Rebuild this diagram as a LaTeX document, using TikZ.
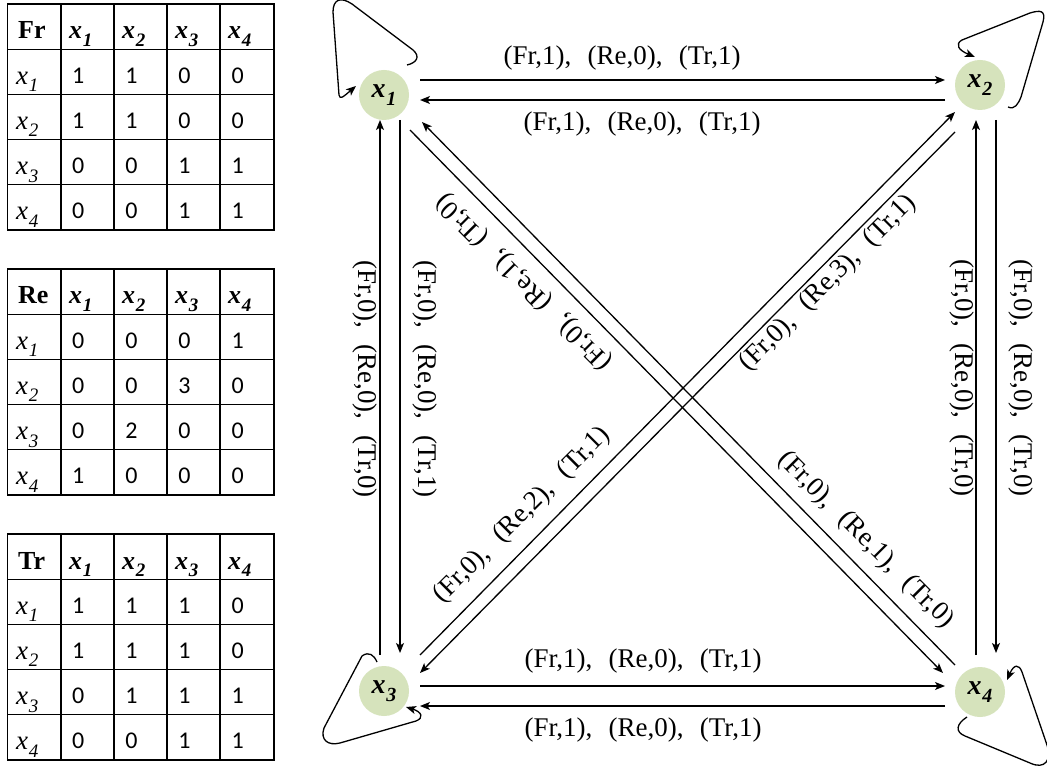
\documentclass[tikz,border=0pt]{standalone}
\usepackage{fontspec}
\setmainfont{Liberation Serif}
\newfontfamily\calib{Carlito}
\usetikzlibrary{arrows.meta}
\definecolor{nodegreen}{RGB}{214,227,188}
\newcommand\gp{\hspace{0.6em}}
\newcommand\elab[3]{(Fr,#1),\gp(Re,#2),\gp(Tr,#3)}
\newcommand\nx[2]{x\kern0.03em\raisebox{-0.28em}{\fontsize{#2}{#2}\selectfont #1}}
\tikzset{
  vtx/.style={circle, fill=nodegreen, minimum size=50pt, inner sep=0pt,
    font=\fontsize{28}{28}\selectfont\bfseries\itshape},
  arr/.style={line width=1.3pt, -{Stealth[length=10pt,width=8pt,inset=2.5pt]}},
  ln/.style={line width=1.3pt},
  elbl/.style={font=\fontsize{27}{27}\selectfont, inner sep=0pt},
  cell/.style={anchor=base west, inner sep=0pt},
  tline/.style={line width=1.3pt},
  hdr/.style={font=\fontsize{26}{26}\selectfont\bfseries},
  hdx/.style={font=\fontsize{26}{26}\selectfont\bfseries\itshape},
  rowx/.style={font=\fontsize{27}{27}\selectfont\itshape},
  dig/.style={font=\fontsize{24}{24}\selectfont\calib},
}
\newcommand\tbl[3]{%
  \begin{scope}[shift={(0,#1)}]
    \draw[tline] (7.5,0) rectangle (274,226);
    \foreach \c in {61,114,167,220} \draw[tline] (\c,0) -- (\c,226);
    \foreach \d in {45.2,90.4,135.6,180.8} \draw[tline] (7.5,\d) -- (274,\d);
    \node[cell,hdr] (#2-t) at (18,35) {#2};
    \foreach \c [count=\i] in {61,114,167,220}
      \node[cell,hdx] (#2-h\i) at (\c+8,35) {\nx{\i}{19}};
    \foreach \r in {1,...,4}
      \node[cell,rowx] (#2-r\r) at (16,{35+45.2*\r}) {\nx{\r}{19}};
    \foreach \v [count=\k from 0] in {#3} {
      \pgfmathtruncatemacro\rr{int(\k/4)+1}
      \pgfmathtruncatemacro\cc{mod(\k,4)}
      \node[cell,dig] (#2-c\k) at ({72+53.1*\cc},{34+45.2*\rr}) {\v};
    }
  \end{scope}
}
\begin{document}
\begin{tikzpicture}[x=1pt,y=-1pt]
\fill[white] (0,0) rectangle (1047,767);
\useasboundingbox (0,0) rectangle (1047,767);

% tables
\tbl{4}{Fr}{1,1,0,0,1,1,0,0,0,0,1,1,0,0,1,1}
\tbl{269}{Re}{0,0,0,1,0,0,3,0,0,2,0,0,1,0,0,0}
\tbl{534}{Tr}{1,1,1,0,1,1,1,0,0,1,1,1,0,0,1,1}

% vertices
\node[vtx] (x1) at (384,95) {\nx{1}{20}};
\node[vtx] (x2) at (980,85) {\nx{2}{20}};
\node[vtx] (x3) at (384,691) {\nx{3}{20}};
\node[vtx] (x4) at (980,692) {\nx{4}{20}};

% horizontal
\draw[arr] ([shift={(36,-15)}]x1.center) -- ([shift={(-35,-5)}]x2.center);
\draw[arr] ([shift={(-35,15)}]x2.center) -- ([shift={(36,5)}]x1.center);
\draw[arr] ([shift={(36,-5)}]x3.center) -- ([shift={(-35,-6)}]x4.center);
\draw[arr] ([shift={(-35,14)}]x4.center) -- ([shift={(36,15)}]x3.center);
% vertical
\draw[arr] ([shift={(-4,-36)}]x3.center) -- ([shift={(-4,25)}]x1.center);
\draw[arr] ([shift={(16,25)}]x1.center) -- ([shift={(16,-38)}]x3.center);
\draw[arr] ([shift={(-4,-37)}]x4.center) -- ([shift={(-4,35)}]x2.center);
\draw[arr] ([shift={(16,35)}]x2.center) -- ([shift={(16,-39)}]x4.center);
% diagonals
\draw[arr] ([shift={(-25,-27)}]x4.center) -- ([shift={(38,27)}]x1.center);
\draw[arr] ([shift={(26,35)}]x1.center) -- ([shift={(-37,-19)}]x4.center);
\draw[arr] ([shift={(36,-36)}]x3.center) -- ([shift={(-25,27)}]x2.center);
\draw[arr] ([shift={(-25,47)}]x2.center) -- ([shift={(36,-18)}]x3.center);

% self loops
\draw[arr] ([shift={(23,-30)}]x1.center) .. controls (416,63) and (421,57) .. (413,50)
  -- (352,4) .. controls (340,-4) and (333,0) .. (333,12)
  -- (339,95) .. controls (340,100) and (343,97) .. ([shift={(-28,-9)}]x1.center);
\draw[arr] ([shift={(28,22)}]x2.center) .. controls (1015,110) and (1018,104) .. (1021,97)
  -- (1043,22) .. controls (1046,10) and (1040,10) .. (1030,13)
  -- (962,40) .. controls (955,44) and (958,50) .. ([shift={(-5,-28)}]x2.center);
\draw[arr] ([shift={(-7,-29)}]x3.center) .. controls (374,655) and (369,651) .. (362,656)
  -- (324,728) .. controls (320,740) and (328,746) .. (340,743)
  -- (416,721) .. controls (424,718) and (422,712) .. ([shift={(22,16)}]x3.center);
\draw[arr] ([shift={(-13,25)}]x4.center) .. controls (956,724) and (955,732) .. (965,736)
  -- (1030,763) .. controls (1045,770) and (1052,760) .. (1047,745)
  -- (1022,672) .. controls (1019,664) and (1014,664) .. ([shift={(27,-12)}]x4.center);

% edge labels
\node[elbl] (l12) at (622,58) {\elab{1}{0}{1}};
\node[elbl] (l21) at (642,124) {\elab{1}{0}{1}};
\node[elbl] (l34) at (643,661) {\elab{1}{0}{1}};
\node[elbl] (l43) at (643,730) {\elab{1}{0}{1}};
\node[elbl,rotate=-90] (l31) at (365,379) {\elab{0}{0}{0}};
\node[elbl,rotate=-90] (l13) at (425,379) {\elab{0}{0}{1}};
\node[elbl,rotate=-90] (l42) at (962,378) {\elab{0}{0}{0}};
\node[elbl,rotate=-90] (l24) at (1021,378) {\elab{0}{0}{0}};
\node[elbl,rotate=135] (l41) at (524,282) {\elab{0}{1}{0}};
\node[elbl,rotate=-45] (l14) at (866,540) {\elab{0}{1}{0}};
\node[elbl,rotate=45] (l32) at (828,283) {\elab{0}{3}{1}};
\node[elbl,rotate=45] (l23) at (522,515) {\elab{0}{2}{1}};
\end{tikzpicture}
\end{document}
